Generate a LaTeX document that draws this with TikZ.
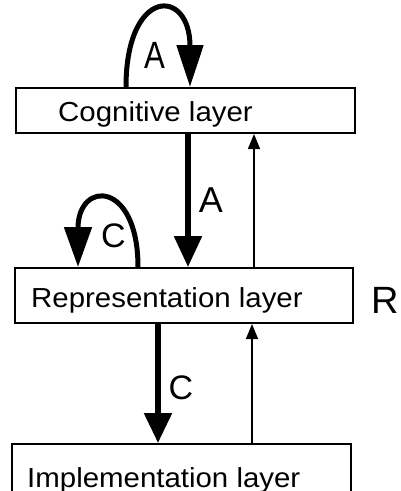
\documentclass[tikz,border=0pt]{standalone}
\usepackage{fontspec}
\setmainfont{Liberation Sans}
\newfontfamily\layerfont[FakeStretch=1.07]{Liberation Sans}
\usetikzlibrary{arrows.meta}

\begin{document}
\begin{tikzpicture}[x=1pt, y=-1pt,
  layerbox/.style={draw, line width=2pt, rectangle, inner sep=0pt, anchor=north west},
  layertext/.style={inner sep=0pt, anchor=base west, font=\layerfont\fontsize{27.5}{32}\selectfont},
  flowlabel/.style={inner sep=0pt, anchor=base, font=\fontsize{34}{38}\selectfont},
  heavy/.style={line width=5.5pt, -{Triangle[length=31pt, width=27pt]}},
  heavyloop/.style={line width=5pt, -{Triangle[length=42pt, width=26pt]}},
  feedback/.style={line width=1.4pt, -{Triangle[length=15pt, width=12pt]}}]

  \clip (0,0) rectangle (400,491);
  \useasboundingbox (0,0) rectangle (400,491);

  % layer boxes
  \node[layerbox, minimum width=339pt, minimum height=45pt] (cog) at (15,87) {};
  \node[layerbox, minimum width=338pt, minimum height=55pt] (rep) at (14,267) {};
  \node[layerbox, minimum width=339pt, minimum height=80pt] (imp) at (11,443) {};

  % box captions
  \node[layertext] (cogt) at (58,121) {Cognitive layer};
  \node[layertext] (rept) at (31,307) {Representation layer};
  \node[layertext] (impt) at (27,487) {Implementation layer};
  \node[inner sep=0pt, anchor=base, font=\fontsize{38}{42}\selectfont] (rlab) at (385,313) {R};

  % self-loop on the cognitive layer
  \coordinate (ca1) at (cog.north -| 126,0);
  \coordinate (ca2) at (cog.north -| 190,0);
  \draw[heavyloop] (ca1) .. controls (126,-13) and (190,-13) .. (ca2);
  \node[flowlabel, font=\fontsize{38}{42}\selectfont] (la1) at (155,68) {\scalebox{0.82}[1]{A}};

  % cognitive -> representation
  \draw[heavy] (cog.south -| 188,0) -- (rep.north -| 188,0);
  \node[flowlabel, font=\fontsize{36}{40}\selectfont] (la2) at (211,212) {A};

  % representation -> cognitive (feedback)
  \draw[feedback] (rep.north -| 254,0) -- (cog.south -| 254,0);

  % self-loop on the representation layer
  \coordinate (cr1) at (rep.north -| 138,0);
  \coordinate (cr2) at (rep.north -| 78,0);
  \draw[heavyloop, -{Triangle[length=40pt, width=27pt]}] (cr1) .. controls (138,180) and (78,180) .. (cr2);
  \node[flowlabel] (lc1) at (113.5,247) {C};

  % representation -> implementation
  \draw[heavy, -{Triangle[length=30pt, width=27pt]}] (rep.south -| 158,0) -- (imp.north -| 158,0);
  \node[flowlabel] (lc2) at (181,399) {C};

  % implementation -> representation (feedback)
  \draw[feedback] (imp.north -| 252,0) -- (rep.south -| 252,0);
\end{tikzpicture}
\end{document}
